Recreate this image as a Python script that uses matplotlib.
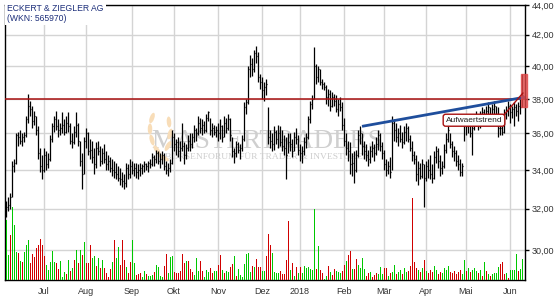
import numpy as np
import pandas as pd
import matplotlib
matplotlib.use("Agg")
import matplotlib.pyplot as plt
from matplotlib.patches import Rectangle, Ellipse
from matplotlib.ticker import NullLocator, FixedLocator, FixedFormatter

# --- daily bars, Jun 2017 - Jun 2018 ---
hi = [32.4, 32.6, 32.8, 34.5, 34.6, 36.0, 36.1, 36.2, 36.0, 36.1,
      37.0, 38.3, 37.9, 37.6, 37.3, 37.0, 36.4, 35.2, 34.8, 35.2,
      35.0, 34.9, 35.9, 36.6, 37.0, 37.3, 36.8, 36.6, 37.2, 36.8,
      37.0, 37.2, 36.6, 36.0, 36.4, 37.2, 36.6, 35.6, 34.9, 35.8,
      36.3, 36.1, 35.7, 35.6, 35.2, 35.5, 35.6, 35.3, 35.2, 35.4,
      35.0, 34.8, 34.7, 34.6, 34.5, 34.4, 34.2, 34.1, 33.9, 33.8,
      34.4, 34.3, 34.6, 34.5, 34.4, 34.4, 34.3, 34.4, 34.3, 34.5,
      34.4, 34.5, 34.6, 34.9, 34.8, 35.1, 35.0, 34.9, 35.0, 34.9,
      34.5, 34.4, 34.6, 36.2, 36.0, 35.7, 35.8, 35.6, 36.6, 35.5,
      35.4, 35.9, 36.0, 36.0, 36.5, 36.3, 37.0, 36.9, 36.8, 36.7,
      37.1, 37.3, 36.9, 36.6, 36.5, 36.4, 36.6, 36.8, 36.5, 37.0,
      36.9, 37.1, 36.9, 35.8, 35.2, 35.6, 35.5, 35.4, 35.9, 37.8,
      38.0, 40.0, 40.7, 40.5, 41.0, 41.3, 40.9, 39.5, 39.3, 39.0,
      39.2, 37.5, 36.2, 36.0, 36.4, 36.2, 36.5, 36.4, 36.2, 35.9,
      35.8, 36.0, 36.0, 35.7, 36.1, 36.3, 35.9, 35.4, 35.3, 35.8,
      36.0, 37.0, 37.9, 38.2, 41.2, 40.1, 40.0, 39.8, 39.2, 39.0,
      38.8, 38.6, 38.5, 38.4, 38.3, 38.2, 38.0, 38.1, 37.8, 36.9,
      36.0, 35.6, 35.5, 34.9, 35.0, 35.1, 36.2, 36.4, 36.0, 35.6,
      35.4, 35.1, 35.3, 35.6, 35.4, 35.8, 36.2, 36.0, 35.5, 35.1,
      34.6, 34.5, 34.7, 37.0, 36.8, 36.6, 36.3, 36.5, 36.1, 36.4,
      36.6, 36.4, 35.9, 35.6, 35.0, 34.8, 34.5, 34.4, 34.6, 34.3,
      34.5, 34.6, 34.8, 34.3, 35.0, 35.3, 35.2, 34.8, 34.5, 35.4,
      36.0, 36.4, 36.0, 35.6, 35.3, 35.1, 34.8, 34.6, 34.4, 37.0,
      36.8, 37.0, 36.7, 36.6, 37.1, 37.3, 37.0, 37.3, 37.5, 37.4,
      37.6, 37.8, 37.5, 37.7, 37.9, 37.6, 37.5, 36.8, 36.6, 37.4,
      37.6, 37.9, 37.7, 37.6, 37.8, 37.7, 37.8, 38.0, 39.5]
lo = [31.6, 31.9, 32.0, 32.6, 33.9, 34.3, 35.3, 35.4, 35.3, 35.5,
      35.8, 36.6, 37.0, 36.3, 36.5, 35.9, 34.6, 33.9, 33.5, 33.9,
      34.0, 34.1, 34.5, 35.5, 36.1, 36.2, 35.8, 35.9, 36.0, 35.9,
      36.0, 36.1, 35.4, 35.2, 35.4, 35.8, 35.3, 34.2, 33.0, 33.8,
      35.2, 34.8, 34.6, 34.4, 33.8, 34.1, 34.8, 34.2, 34.3, 34.4,
      34.0, 34.0, 33.9, 33.7, 33.6, 33.5, 33.4, 33.2, 33.1, 33.0,
      33.1, 33.5, 33.6, 33.8, 33.7, 33.6, 33.5, 33.7, 33.8, 33.9,
      34.0, 33.9, 34.1, 34.2, 34.2, 34.4, 34.3, 34.1, 34.3, 34.0,
      33.8, 33.7, 33.9, 34.3, 35.0, 34.8, 34.7, 34.5, 35.0, 34.3,
      34.6, 35.0, 35.0, 35.2, 35.5, 35.6, 35.9, 36.0, 35.9, 36.0,
      36.1, 36.7, 35.9, 35.8, 35.9, 35.8, 35.6, 35.7, 35.5, 35.8,
      36.0, 36.2, 35.6, 34.7, 34.4, 34.7, 34.9, 34.6, 35.0, 35.6,
      37.1, 37.7, 39.3, 39.4, 39.6, 40.2, 39.0, 38.6, 38.0, 37.9,
      38.2, 35.4, 35.2, 35.0, 35.1, 35.4, 35.2, 35.3, 35.0, 34.8,
      33.5, 34.9, 35.0, 34.7, 35.0, 35.4, 34.8, 34.5, 34.4, 34.8,
      35.2, 35.7, 36.6, 37.4, 38.0, 38.9, 39.0, 38.8, 38.6, 38.5,
      37.7, 37.6, 37.3, 37.5, 37.6, 37.2, 37.0, 37.3, 36.2, 35.3,
      34.8, 34.5, 33.8, 33.7, 33.3, 33.9, 34.7, 35.4, 34.8, 34.6,
      34.5, 34.2, 34.4, 34.7, 34.5, 34.8, 35.1, 35.0, 34.6, 34.0,
      33.7, 33.8, 33.6, 34.0, 35.6, 35.5, 35.3, 35.5, 35.2, 35.4,
      35.6, 35.5, 35.0, 34.5, 34.3, 33.4, 33.2, 33.5, 33.6, 32.1,
      33.4, 33.6, 33.5, 33.3, 33.5, 34.4, 34.1, 33.7, 33.8, 34.1,
      34.9, 35.5, 35.2, 34.7, 34.5, 34.2, 34.0, 33.7, 33.7, 35.6,
      35.9, 36.0, 35.8, 34.8, 36.2, 36.4, 36.2, 36.3, 36.7, 36.6,
      36.8, 37.0, 36.6, 36.9, 37.1, 36.7, 35.8, 35.9, 35.9, 36.0,
      36.8, 37.0, 36.6, 36.9, 36.4, 37.0, 36.7, 37.1, 37.5]
close = [32.1, 32.2, 32.6, 34.2, 34.4, 35.9, 35.8, 35.6, 35.8, 35.9,
         36.8, 37.6, 37.4, 36.7, 37.0, 36.2, 34.9, 34.2, 34.0, 34.8,
         34.3, 34.6, 35.7, 36.4, 36.8, 36.4, 36.2, 36.3, 36.5, 36.1,
         36.6, 36.4, 35.6, 35.5, 36.1, 36.5, 35.6, 34.5, 33.8, 35.6,
         36.0, 35.0, 35.1, 34.7, 34.3, 35.2, 35.0, 34.5, 34.9, 34.6,
         34.3, 34.5, 34.1, 34.0, 33.9, 33.8, 33.6, 33.5, 33.4, 33.3,
         34.1, 33.8, 34.2, 34.0, 34.1, 33.9, 34.0, 34.1, 34.2, 34.3,
         34.2, 34.4, 34.3, 34.7, 34.6, 34.9, 34.5, 34.6, 34.8, 34.2,
         34.0, 34.1, 34.4, 35.8, 35.4, 35.5, 35.0, 35.2, 35.3, 34.8,
         35.2, 35.6, 35.4, 35.8, 36.2, 36.0, 36.6, 36.3, 36.5, 36.2,
         36.9, 37.2, 36.2, 36.3, 36.1, 36.2, 36.0, 36.4, 35.8, 36.6,
         36.3, 36.8, 35.9, 35.0, 34.9, 35.4, 35.1, 35.2, 35.7, 37.5,
         37.8, 39.8, 40.1, 39.8, 40.8, 40.6, 39.3, 39.0, 38.5, 38.7,
         38.9, 35.8, 35.6, 35.4, 36.1, 35.7, 36.0, 35.5, 35.3, 35.2,
         34.8, 35.5, 35.4, 35.0, 35.8, 35.7, 35.1, 34.9, 35.0, 35.5,
         35.8, 36.8, 37.7, 38.0, 40.0, 39.3, 39.8, 39.0, 38.9, 38.7,
         38.1, 38.3, 37.6, 38.1, 37.9, 37.4, 37.7, 37.5, 36.5, 35.6,
         35.2, 35.0, 34.3, 34.4, 34.0, 34.8, 35.9, 36.0, 35.3, 35.0,
         34.8, 34.6, 35.0, 35.2, 34.9, 35.4, 35.9, 35.3, 34.9, 34.3,
         34.0, 34.2, 33.9, 36.6, 36.2, 35.8, 36.0, 35.7, 35.5, 36.1,
         36.3, 35.7, 35.2, 34.8, 34.6, 33.8, 34.1, 33.7, 34.3, 33.6,
         34.2, 34.0, 33.8, 33.6, 34.7, 35.0, 34.5, 34.1, 34.2, 35.1,
         35.7, 36.2, 35.4, 35.0, 34.9, 34.5, 34.3, 33.9, 34.2, 36.5,
         36.4, 36.6, 36.0, 36.3, 36.8, 37.0, 36.5, 37.1, 37.2, 36.9,
         37.3, 37.5, 37.0, 37.4, 37.6, 37.1, 36.3, 36.3, 36.1, 37.1,
         37.3, 37.6, 37.2, 37.4, 37.5, 37.3, 37.6, 37.5, 38.2]

# volume (relative units) and bar colour: g = up day, r = down day
vol = [60, 25, 45, 73, 55, 28, 27, 19, 18, 28,
       35, 40, 17, 26, 23, 32, 35, 41, 35, 24,
       15, 10, 18, 29, 18, 17, 11, 19, 3, 8,
       6, 20, 9, 12, 20, 30, 17, 30, 25, 38,
       17, 17, 35, 22, 24, 14, 22, 12, 20, 12,
       7, 3, 11, 18, 40, 22, 33, 15, 40, 20,
       13, 7, 18, 40, 17, 5, 6, 7, 3, 9,
       6, 4, 4, 5, 8, 15, 13, 4, 3, 14,
       26, 7, 23, 24, 8, 7, 7, 9, 26, 17,
       19, 19, 11, 8, 5, 22, 9,
       19, 9, 3, 10, 8, 12, 7, 9, 9, 15,
       25, 10, 7, 9, 8, 13, 16, 24, 4, 11,
       5, 3, 16, 26, 27, 8, 14, 13, 21, 13,
       13, 9, 9, 24, 46, 35, 27, 8, 7, 7,
       9, 6, 6, 20, 59, 10, 17, 4, 13, 7,
       13, 7, 14, 12, 13, 11, 10, 71, 11, 34,
       10, 7, 1, 4, 14, 8, 5, 11, 9, 8,
       7, 9, 15, 19, 25, 29, 11, 11, 21, 15,
       12, 22, 11, 4, 7, 8, 3, 5, 7, 6,
       13, 6, 12, 12, 4, 7, 8, 15, 6, 8,
       10, 6, 12, 8, 9, 14, 82, 18, 12, 10,
       8, 12, 20, 9, 7, 10, 8, 14, 10, 6,
       8, 7, 12, 10, 14, 8, 7, 9, 6, 8,
       10, 6, 20, 9, 12, 8, 10, 12, 9, 7,
       10,
       4, 18, 9, 6, 4, 6, 7, 7, 13, 16,
       18, 6, 7, 2, 10, 10, 10, 26, 9, 11, 21]
vol_dir = ("ggrgggrgrg" "ggrrrrrrrr" "gggggrrggg" "rgrgrgrgrg" "rrrggrgrgr"
           "rrrgrggrrr" "grrggrrrgg" "rgggrggggr" "rgggrrrrrr" "grrrggg"
           "rrgggrrggr" "rgrggrrgrg" "ggggggrgrr" "rggrrrgggg" "rrrrrgrgrg"
           "rgggggggrg" "rrggrgrrgg" "grrgrrgrrg" "gggrrgrrrg" "ggrrgrggrg"
           "grggrrrrrg" "rgrgrrrggr" "rggggrrrrr" "rggrgrgggr" "g"
           "rgrgrggggrrrgrggggrgg")

holidays = ["2017-12-25", "2017-12-26", "2018-01-01",
            "2018-03-30", "2018-04-02", "2018-05-01"]
month_labels = ["Jul", "Aug", "Sep", "Okt", "Nov", "Dez",
                "2018", "Feb", "Mär", "Apr", "Mai", "Jun"]
price_ticks = [30, 32, 34, 36, 38, 40, 42, 44]

resistance = 38.0
trend_start = ("2018-02-14", 36.4)
trend_end_price = 38.1

# trading calendar
days = pd.bdate_range("2017-06-06", "2018-06-29")
days = days[~days.isin(pd.to_datetime(holidays))]
n = len(close)
days = days[:n]
x = np.arange(n)

month_pos = []
for m in pd.period_range("2017-07", "2018-06", freq="M"):
    month_pos.append(int(np.argmax(days.to_period("M") == m)))

# --- figure ---
fig = plt.figure(figsize=(5.55, 3.0), dpi=100)
rect = [5 / 555, 20 / 300, 520 / 555, 275 / 300]
ax = fig.add_axes(rect)
ax.set_yscale("log")
ax.set_ylim(28.63, 44.0)
ax.set_xlim(-0.5, n + 0.5)

# grid
ax.set_xticks(month_pos)
ax.set_xticklabels(month_labels, fontsize=6.5, family="Liberation Sans", color="#333333")
ax.tick_params(axis="x", length=0, pad=5)
ax.yaxis.tick_right()
ax.yaxis.set_major_locator(FixedLocator(price_ticks))
ax.yaxis.set_major_formatter(FixedFormatter([f"{p:.2f}".replace(".", ",") for p in price_ticks]))
ax.yaxis.set_minor_locator(NullLocator())
ax.tick_params(axis="y", length=3, width=1, pad=2, labelsize=6.5, labelcolor="#333333")
for lab in ax.get_yticklabels():
    lab.set_family("Liberation Sans")
ax.grid(True, color="#d4d4d4", lw=1.0, zorder=0)
ax.set_axisbelow(True)
for s in ax.spines.values():
    s.set_color("black")
    s.set_linewidth(1.0)

# watermark (text + laurel leaves), placed in inches from the bottom-left
ax.text(2.67, 1.59, "MASTERTRADERS", transform=fig.dpi_scale_trans,
        family="Liberation Serif", fontsize=19.5, color="#cfcfcf",
        ha="center", va="center", zorder=0.6)
ax.text(2.67, 1.43, "BÖRSENFORUM FÜR TRADER & INVESTOREN",
        transform=fig.dpi_scale_trans, family="Liberation Serif", fontsize=6.8,
        color="#cdcdcd", ha="center", va="center", zorder=0.6)
leaf_px = [(164, 158, 150), (157, 150, 125), (152, 140, 105), (150, 129, 90),
           (152, 118, 70), (168, 146, 60), (170, 134, 75), (169, 122, 95)]
for lx, ly, ang in leaf_px:
    ax.add_patch(Ellipse((lx / 100, (300 - ly) / 100), 0.11, 0.045, angle=ang,
                         transform=fig.dpi_scale_trans, color="#f8ddb8", lw=0,
                         zorder=0.6))

# OHLC bars
ax.vlines(x, lo, hi, color="black", lw=0.9, zorder=3)
ax.hlines(close, x, x + 0.7, color="black", lw=0.9, zorder=3)

# resistance and trend
ax.axhline(resistance, color="#a81010", lw=1.1, zorder=4)
t0 = int(np.argmax(days == pd.Timestamp(trend_start[0])))
ax.plot([t0, n + 0.5], [trend_start[1], trend_end_price], color="#1f4e9c",
        lw=2.0, solid_capstyle="butt", zorder=5)

# last price marker
ax.add_patch(Rectangle((n - 1.5, 37.5), 3.0, 2.0, color="#e04848", alpha=0.8,
                       clip_on=False, zorder=6))

ax.annotate("Aufwaertstrend", xy=(n - 0.5, 38.35), xytext=(234, 36.75),
            fontsize=6, family="Liberation Sans", color="#222222",
            ha="center", va="center", zorder=7,
            bbox=dict(boxstyle="round,pad=0.3", fc="white", ec="#a81010", lw=1.0),
            arrowprops=dict(arrowstyle="-", color="#a81010", lw=1.0,
                            shrinkA=0, shrinkB=0, relpos=(1, 1)))

# volume on an overlay axis
axv = fig.add_axes(rect, sharex=ax)
axv.patch.set_visible(False)
axv.set_ylim(0, 275)
cols = ["#00c800" if d == "g" else "#d00000" for d in vol_dir[:n]]
axv.bar(x, vol[:n], width=0.5, color=cols, lw=0, zorder=2)
axv.axis("off")

# title box
fig.text(7 / 555, 1 - 4 / 300, "ECKERT & ZIEGLER AG\n(WKN: 565970)",
         fontsize=6.2, family="Liberation Sans", color="#1c2e7a",
         ha="left", va="top", linespacing=1.15,
         bbox=dict(fc="white", ec="none", pad=1.5))

fig.savefig("out.png", dpi=100)
